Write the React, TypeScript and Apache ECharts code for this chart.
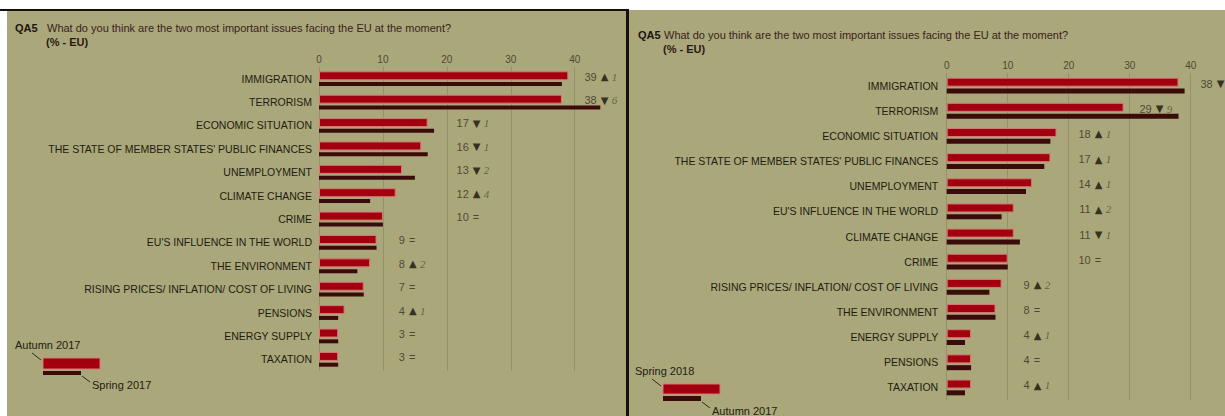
import React, { useEffect, useRef } from "react";
import * as echarts from "echarts";

// ---------- DATA ----------
const leftCategories = [
  "IMMIGRATION",
  "TERRORISM",
  "ECONOMIC SITUATION",
  "THE STATE OF MEMBER STATES' PUBLIC FINANCES",
  "UNEMPLOYMENT",
  "CLIMATE CHANGE",
  "CRIME",
  "EU'S INFLUENCE IN THE WORLD",
  "THE ENVIRONMENT",
  "RISING PRICES/ INFLATION/ COST OF LIVING",
  "PENSIONS",
  "ENERGY SUPPLY",
  "TAXATION",
];
const leftAutumn2017 = [39, 38, 17, 16, 13, 12, 10, 9, 8, 7, 4, 3, 3];
const leftSpring2017 = [38, 44, 18, 17, 15, 8, 10, 9, 6, 7, 3, 3, 3];

const rightCategories = [
  "IMMIGRATION",
  "TERRORISM",
  "ECONOMIC SITUATION",
  "THE STATE OF MEMBER STATES' PUBLIC FINANCES",
  "UNEMPLOYMENT",
  "EU'S INFLUENCE IN THE WORLD",
  "CLIMATE CHANGE",
  "CRIME",
  "RISING PRICES/ INFLATION/ COST OF LIVING",
  "THE ENVIRONMENT",
  "ENERGY SUPPLY",
  "PENSIONS",
  "TAXATION",
];
const rightSpring2018 = [38, 29, 18, 17, 14, 11, 11, 10, 9, 8, 4, 4, 4];
const rightAutumn2017 = [39, 38, 17, 16, 13, 9, 12, 10, 7, 8, 3, 4, 3];

const axisMin = 0;
const axisMax = 40;
const axisInterval = 10;

const questionCode = "QA5";
const questionText = "What do you think are the two most important issues facing the EU at the moment?";
const unitText = "(% - EU)";
const leftLegend = ["Autumn 2017", "Spring 2017"];
const rightLegend = ["Spring 2018", "Autumn 2017"];

// ---------- STYLE ----------
const BG = "#aaa77a";
const GRID = "#95926b";
const RED = "#a3000f";
const RED_BORDER = "#d7787a";
const DARK = "#3b0b0c";
const TEXT = "#231c12";
const FONT = '"Liberation Sans", Arial, sans-serif';

const labelColumn = (v: number) => (Math.floor(v / axisInterval) + 1) * axisInterval;

const chgRich = (d: number) => {
  if (d === 0) return "{eq|=}";
  return d > 0 ? "{tri|▲} {chg|" + d + "}" : "{tri|▼} {chg|" + -d + "}";
};

function labelSeries(cur: number[], prev: number[], idx: number, numOffset: number) {
  const data = cur.map((v, i) => [labelColumn(v), i, v, v - prev[i]]);
  return [
    {
      type: "scatter",
      xAxisIndex: idx,
      yAxisIndex: idx,
      data,
      symbolSize: 0,
      silent: true,
      clip: false,
      z: 5,
      label: {
        show: true,
        position: "left",
        distance: 0,
        offset: [numOffset, -2],
        formatter: (p: any) => String(p.data[2]),
        color: "#352e20",
        fontSize: 11,
        fontFamily: FONT,
      },
    },
    {
      type: "scatter",
      xAxisIndex: idx,
      yAxisIndex: idx,
      data,
      symbolSize: 0,
      silent: true,
      clip: false,
      z: 5,
      label: {
        show: true,
        position: "right",
        distance: 0,
        offset: [numOffset + 4, -2],
        formatter: (p: any) => chgRich(p.data[3]),
        rich: {
          tri: { fontSize: 10, color: "#15110b", fontFamily: '"DejaVu Sans", sans-serif' },
          chg: { fontSize: 11, color: "#554d35", fontStyle: "italic", fontFamily: '"Liberation Serif", serif' },
          eq: { fontSize: 11, color: "#352e20", fontFamily: FONT },
        },
      },
    },
  ];
}

function barSeries(cur: number[], prev: number[], idx: number, redW: number, darkW: number) {
  return [
    {
      type: "bar",
      xAxisIndex: idx,
      yAxisIndex: idx,
      data: cur,
      barWidth: redW,
      barGap: "20%",
      clip: false,
      itemStyle: { color: RED, borderColor: RED_BORDER, borderWidth: 1 },
      z: 3,
    },
    {
      type: "bar",
      xAxisIndex: idx,
      yAxisIndex: idx,
      data: prev,
      barWidth: darkW,
      barGap: "20%",
      clip: false,
      itemStyle: { color: DARK },
      z: 3,
    },
  ];
}

function xAxisFor(gridIndex: number, margin: number) {
  return {
    type: "value",
    gridIndex,
    position: "top",
    min: axisMin,
    max: axisMax,
    interval: axisInterval,
    axisLine: { show: false },
    axisTick: { show: false },
    axisLabel: { color: "#4d4934", fontSize: 10, fontFamily: FONT, margin },
    splitLine: { show: true, lineStyle: { color: GRID, width: 1 } },
    z: 1,
  };
}

function yAxisFor(gridIndex: number, cats: string[], margin: number) {
  return {
    type: "category",
    gridIndex,
    inverse: true,
    data: cats,
    axisLine: { show: false },
    axisTick: { show: false },
    axisLabel: { color: TEXT, fontSize: 10.5, fontFamily: FONT, margin },
    splitLine: { show: false },
    z: 1,
  };
}

function titleGraphics(x0: number, y0: number, textX: number) {
  return [
    {
      type: "text",
      x: x0,
      y: y0,
      z: 10,
      style: { text: questionCode, fill: "#1d140e", font: "bold 11px " + FONT, verticalAlign: "middle" },
    },
    {
      type: "text",
      x: textX,
      y: y0,
      z: 10,
      style: { text: questionText, fill: "#3a221e", font: "11px " + FONT, verticalAlign: "middle" },
    },
    {
      type: "text",
      x: textX - 1,
      y: y0 + 14,
      z: 10,
      style: { text: unitText, fill: "#2a1a14", font: "bold 11px " + FONT, verticalAlign: "middle" },
    },
  ];
}

function legendGraphics(
  x: number,
  yTopText: number,
  names: string[],
  redH: number,
  darkH: number
) {
  const rectX = x + 28;
  const redY = yTopText + 13;
  const darkY = redY + redH + 2;
  return [
    {
      type: "text",
      x,
      y: yTopText,
      z: 10,
      style: { text: names[0], fill: TEXT, font: "11px " + FONT, verticalAlign: "middle" },
    },
    {
      type: "line",
      z: 10,
      shape: { x1: x + 17, y1: yTopText + 8, x2: x + 26, y2: yTopText + 15 },
      style: { stroke: "#2e2a20", lineWidth: 1 },
    },
    {
      type: "rect",
      z: 10,
      shape: { x: rectX, y: redY, width: 57, height: redH },
      style: { fill: RED, stroke: RED_BORDER, lineWidth: 1 },
    },
    {
      type: "rect",
      z: 10,
      shape: { x: rectX, y: darkY, width: 38, height: darkH },
      style: { fill: DARK },
    },
    {
      type: "line",
      z: 10,
      shape: { x1: rectX + 39, y1: darkY + darkH + 1, x2: rectX + 47, y2: darkY + darkH + 7 },
      style: { stroke: "#2e2a20", lineWidth: 1 },
    },
    {
      type: "text",
      x: rectX + 49,
      y: darkY + darkH + 10,
      z: 10,
      style: { text: names[1], fill: TEXT, font: "11px " + FONT, verticalAlign: "middle" },
    },
  ];
}

export default function App() {
  const ref = useRef<HTMLDivElement>(null);

  useEffect(() => {
    if (!ref.current) return;
    const chart = echarts.init(ref.current, null, { renderer: "svg" });

    const option: any = {
      animation: false,
      backgroundColor: "#ffffff",
      grid: [
        { left: 319, top: 67, width: 255.7, height: 304, containLabel: false },
        { left: 946.7, top: 73, width: 244, height: 327, containLabel: false },
      ],
      xAxis: [xAxisFor(0, 3), xAxisFor(1, 3)],
      yAxis: [yAxisFor(0, leftCategories, 7), yAxisFor(1, rightCategories, 8.5)],
      series: [
        ...barSeries(leftAutumn2017, leftSpring2017, 0, 9, 4),
        ...labelSeries(leftAutumn2017, leftSpring2017, 0, 22),
        ...barSeries(rightSpring2018, rightAutumn2017, 1, 9, 5),
        ...labelSeries(rightSpring2018, rightAutumn2017, 1, 22),
      ],
      graphic: [
        { type: "rect", z: -10, shape: { x: 7, y: 10, width: 620, height: 406 }, style: { fill: BG } },
        { type: "rect", z: -10, shape: { x: 629, y: 10, width: 596, height: 406 }, style: { fill: BG } },
        { type: "rect", z: -9, shape: { x: 0, y: 9, width: 628, height: 2 }, style: { fill: "#111" } },
        { type: "rect", z: -9, shape: { x: 626, y: 9, width: 3, height: 407 }, style: { fill: "#111" } },
        ...titleGraphics(15, 28, 47),
        ...titleGraphics(638, 35, 664),
        ...legendGraphics(15, 345, leftLegend, 11, 4),
        ...legendGraphics(635, 371, rightLegend, 10, 5),
      ],
    };

    chart.setOption(option);
    return () => chart.dispose();
  }, []);

  return (
    <div
      ref={ref}
      style={{ position: "absolute", left: 0, top: 0, width: 1225, height: 416 }}
    />
  );
}
